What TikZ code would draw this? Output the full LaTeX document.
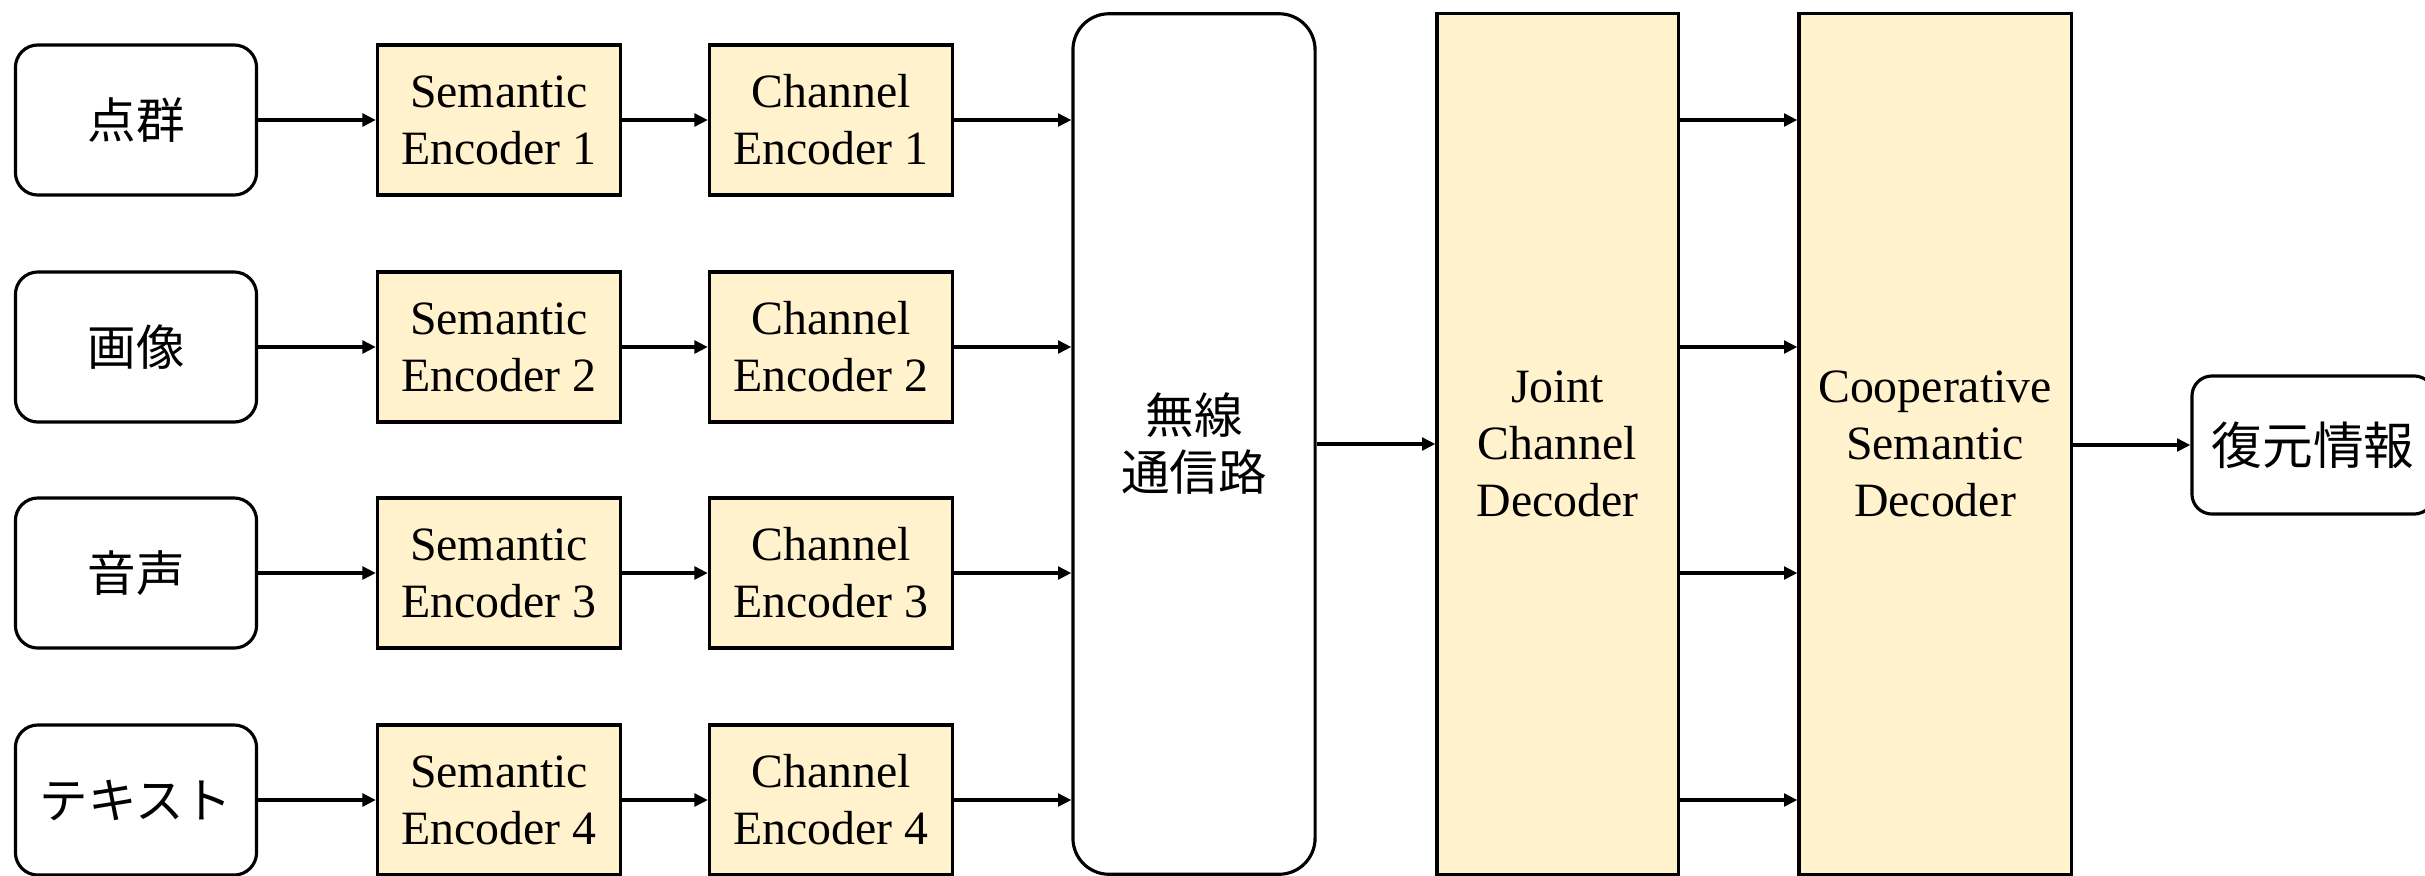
\documentclass[tikz,border=0pt]{standalone}
\usepackage{fontspec}
\setmainfont{Liberation Serif}
\newfontfamily\jpfont{Noto Sans CJK JP}
\usetikzlibrary{arrows.meta}
\definecolor{encfill}{HTML}{FFF2CC}
\tikzset{
  blk/.style={draw=black, line width=0.9pt, align=center, inner sep=0pt,
    font=\fontsize{13.6}{16.2}\selectfont},
  encbox/.style={blk, fill=encfill, minimum width=2.43cm, minimum height=1.5cm},
  inbox/.style={blk, rounded corners=0.225cm, minimum width=2.41cm, minimum height=1.5cm,
    font=\jpfont\fontsize{13.8}{16.2}\selectfont},
  tallbox/.style={blk, minimum height=8.6cm},
  arr/.style={-{Triangle[length=3.8pt,width=3.6pt]}, line width=0.9pt},
}
\begin{document}
\begin{tikzpicture}[x=0.01cm, y=-0.01cm]
\useasboundingbox (0,0) rectangle (2425,875);
\clip (0,0) rectangle (2425,875);
% inputs
\node[inbox] (in1) at (136,120) {点群};
\node[inbox] (in2) at (136,347) {画像};
\node[inbox] (in3) at (136,573) {音声};
\node[inbox] (in4) at (136,800) {テキスト};
% semantic encoders
\node[encbox] (se1) at (499,120) {Semantic\\Encoder 1};
\node[encbox] (se2) at (499,347) {Semantic\\Encoder 2};
\node[encbox] (se3) at (499,573) {Semantic\\Encoder 3};
\node[encbox] (se4) at (499,800) {Semantic\\Encoder 4};
% channel encoders
\node[encbox] (ce1) at (831,120) {Channel\\Encoder 1};
\node[encbox] (ce2) at (831,347) {Channel\\Encoder 2};
\node[encbox] (ce3) at (831,573) {Channel\\Encoder 3};
\node[encbox] (ce4) at (831,800) {Channel\\Encoder 4};
% wireless channel
\node[tallbox, rounded corners=0.36cm, minimum width=2.42cm,
  font=\jpfont\fontsize{13.8}{16.2}\selectfont] (wl) at (1194,444) {無線\\通信路};
% joint channel decoder
\node[tallbox, fill=encfill, minimum width=2.41cm] (jd) at (1557.5,444) {Joint\\Channel\\Decoder};
% cooperative semantic decoder
\node[tallbox, fill=encfill, minimum width=2.72cm] (cd) at (1935,444) {Cooperative\\Semantic\\Decoder};
% output
\node[inbox, minimum width=2.42cm, minimum height=1.38cm, rounded corners=0.2cm,
  font=\jpfont\fontsize{14.4}{16.2}\selectfont] (out) at (2313,445) {復元情報};
% connectors
\foreach \i in {1,2,3,4} {
  \draw[arr] (in\i.east) -- (se\i.west);
  \draw[arr] (se\i.east) -- (ce\i.west);
  \draw[arr] (ce\i.east) -- (ce\i.east -| wl.west);
  \draw[arr] (jd.east |- in\i.east) -- (cd.west |- in\i.east);
}
\draw[arr] (wl.east) -- (jd.west);
\draw[arr] (cd.east |- out.west) -- (out.west);
\end{tikzpicture}
\end{document}
